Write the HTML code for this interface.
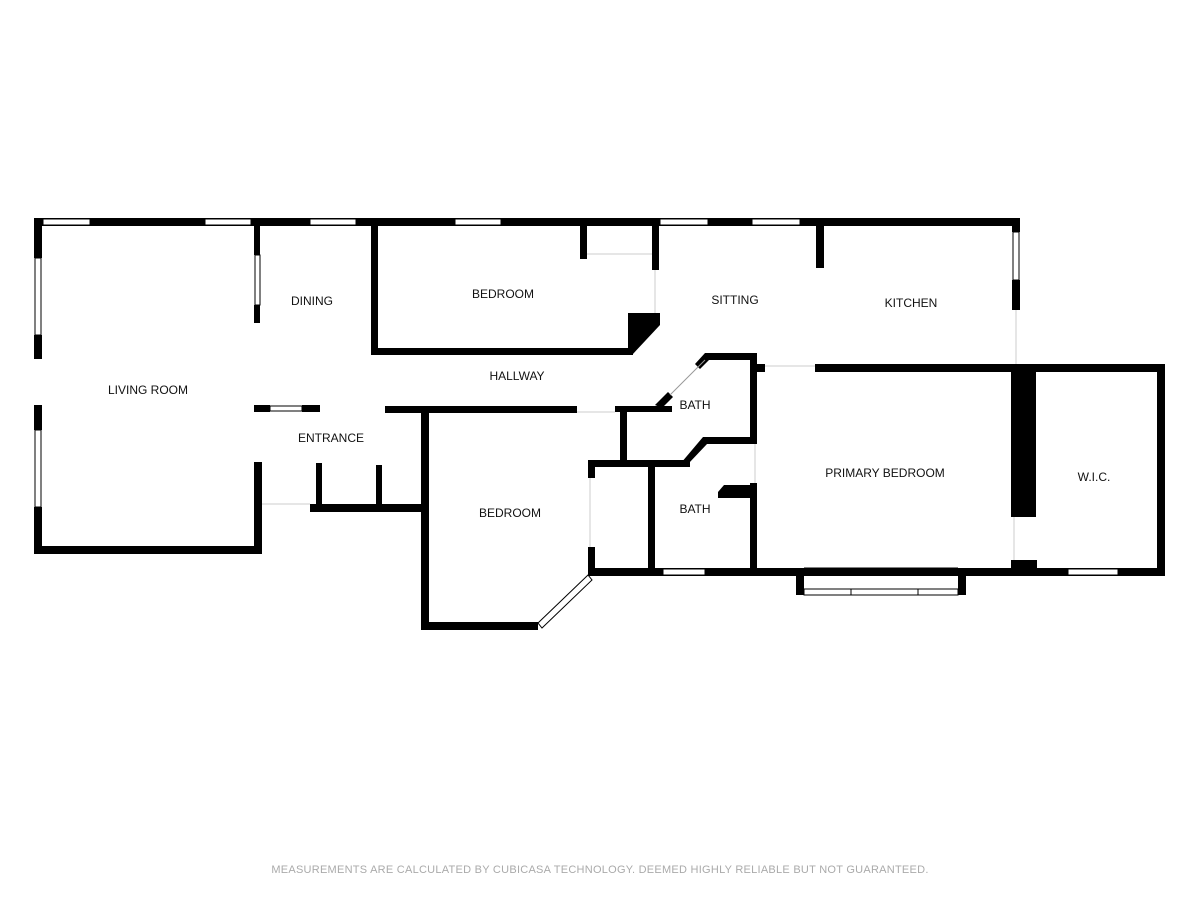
<!DOCTYPE html>
<html><head><meta charset="utf-8"><style>
html,body{margin:0;padding:0;background:#fff;width:1200px;height:900px;overflow:hidden}
svg text{font-family:"Liberation Sans",sans-serif;font-size:12px;fill:#111}
</style></head><body>
<svg width="1200" height="900" viewBox="0 0 1200 900" xmlns="http://www.w3.org/2000/svg">
<g fill="#000">
<rect x="34" y="218" width="986" height="8"/>
<rect x="34" y="218" width="8" height="40"/>
<rect x="34" y="335" width="8" height="24"/>
<rect x="34" y="405" width="8" height="25"/>
<rect x="34" y="507" width="8" height="47"/>
<rect x="34" y="546" width="228" height="8"/>
<rect x="254" y="462" width="8" height="92"/>
<rect x="254" y="225" width="6" height="30"/>
<rect x="254" y="305" width="6" height="18"/>
<rect x="254" y="405" width="16" height="7"/>
<rect x="302" y="405" width="18" height="7"/>
<rect x="310" y="504" width="118" height="8"/>
<rect x="316" y="463" width="6" height="48"/>
<rect x="376" y="465" width="6" height="46"/>
<rect x="371" y="225" width="7" height="130"/>
<rect x="371" y="348" width="262" height="7"/>
<polygon points="628,313 660,313 660,325 632,355 628,355"/>
<rect x="580" y="225" width="7" height="34"/>
<rect x="652" y="225" width="7" height="45"/>
<rect x="385" y="406" width="192" height="7"/>
<rect x="615" y="406" width="57" height="6"/>
<rect x="421" y="409" width="8" height="221"/>
<rect x="421" y="622" width="117" height="8"/>
<rect x="588" y="460" width="7" height="18"/>
<rect x="588" y="547" width="7" height="28"/>
<rect x="588" y="460" width="102" height="7"/>
<polygon points="705,353 757,353 757,360 709,360 700,369 695,364"/>
<polygon points="655,405 668,392 673,397 662,408"/>
<rect x="750" y="353" width="7" height="90"/>
<polygon points="703,437 757,437 757,444 707,444 689,463 681,463"/>
<rect x="620" y="407" width="7" height="56"/>
<rect x="757" y="364" width="8" height="8"/>
<rect x="648" y="462" width="7" height="113"/>
<rect x="750" y="483" width="7" height="92"/>
<polygon points="724,485 757,485 757,498 718,498 718,492"/>
<rect x="588" y="568" width="577" height="8"/>
<rect x="796" y="568" width="8" height="27"/>
<rect x="958" y="568" width="8" height="27"/>
<rect x="816" y="225" width="8" height="43"/>
<rect x="815" y="364" width="200" height="8"/>
<rect x="1012" y="218" width="8" height="14"/>
<rect x="1012" y="280" width="8" height="30"/>
<rect x="1011" y="364" width="154" height="8"/>
<rect x="1157" y="364" width="8" height="212"/>
<rect x="1011" y="364" width="25" height="153"/>
<rect x="1011" y="560" width="26" height="16"/>
</g>
<g fill="#fff" stroke="#000" stroke-width="1">
<rect x="43" y="219" width="47" height="6"/>
<rect x="205" y="219" width="46" height="6"/>
<rect x="310" y="219" width="46" height="6"/>
<rect x="455" y="219" width="46" height="6"/>
<rect x="660" y="219" width="48" height="6"/>
<rect x="752" y="219" width="48" height="6"/>
<rect x="35" y="258" width="6" height="77"/>
<rect x="35" y="430" width="6" height="77"/>
<rect x="255" y="255" width="5" height="50"/>
<rect x="270" y="406" width="32" height="5"/>
<rect x="1013" y="232" width="6" height="48"/>
<rect x="663" y="569" width="42" height="6"/>
<rect x="1068" y="569" width="50" height="6"/>
<rect x="804" y="589" width="154" height="6"/>
<line x1="804" y1="568" x2="958" y2="568"/>
</g>
<g stroke="#000" stroke-width="1" fill="none">
<line x1="851" y1="589" x2="851" y2="595"/><line x1="918" y1="589" x2="918" y2="595"/>
<polygon points="538,623 588,575 592,580 542,628" fill="#fff"/>
<line x1="670" y1="395" x2="705" y2="360" stroke="#999"/>
</g>
<g stroke="#ccc" stroke-width="1">
<line x1="587" y1="254" x2="652" y2="254"/>
<line x1="262" y1="504" x2="310" y2="504"/>
<line x1="577" y1="412" x2="615" y2="412"/>
<line x1="765" y1="366" x2="815" y2="366"/>
<line x1="1016" y1="310" x2="1016" y2="364"/>
<line x1="1014" y1="517" x2="1014" y2="560"/>
<line x1="590" y1="478" x2="590" y2="547"/>
<line x1="755" y1="444" x2="755" y2="483"/>
<line x1="655" y1="270" x2="655" y2="313"/>
</g>
<text x="148" y="394" text-anchor="middle">LIVING ROOM</text>
<text x="312" y="305" text-anchor="middle">DINING</text>
<text x="331" y="442" text-anchor="middle">ENTRANCE</text>
<text x="503" y="298" text-anchor="middle">BEDROOM</text>
<text x="517" y="380" text-anchor="middle">HALLWAY</text>
<text x="735" y="304" text-anchor="middle">SITTING</text>
<text x="911" y="307" text-anchor="middle">KITCHEN</text>
<text x="695" y="409" text-anchor="middle">BATH</text>
<text x="695" y="513" text-anchor="middle">BATH</text>
<text x="885" y="477" text-anchor="middle">PRIMARY BEDROOM</text>
<text x="1094" y="481" text-anchor="middle">W.I.C.</text>
<text x="510" y="517" text-anchor="middle">BEDROOM</text>
<text x="600" y="873" text-anchor="middle" style="font-size:11px;fill:#aaa;letter-spacing:0.26px">MEASUREMENTS ARE CALCULATED BY CUBICASA TECHNOLOGY. DEEMED HIGHLY RELIABLE BUT NOT GUARANTEED.</text>
</svg>
</body></html>
